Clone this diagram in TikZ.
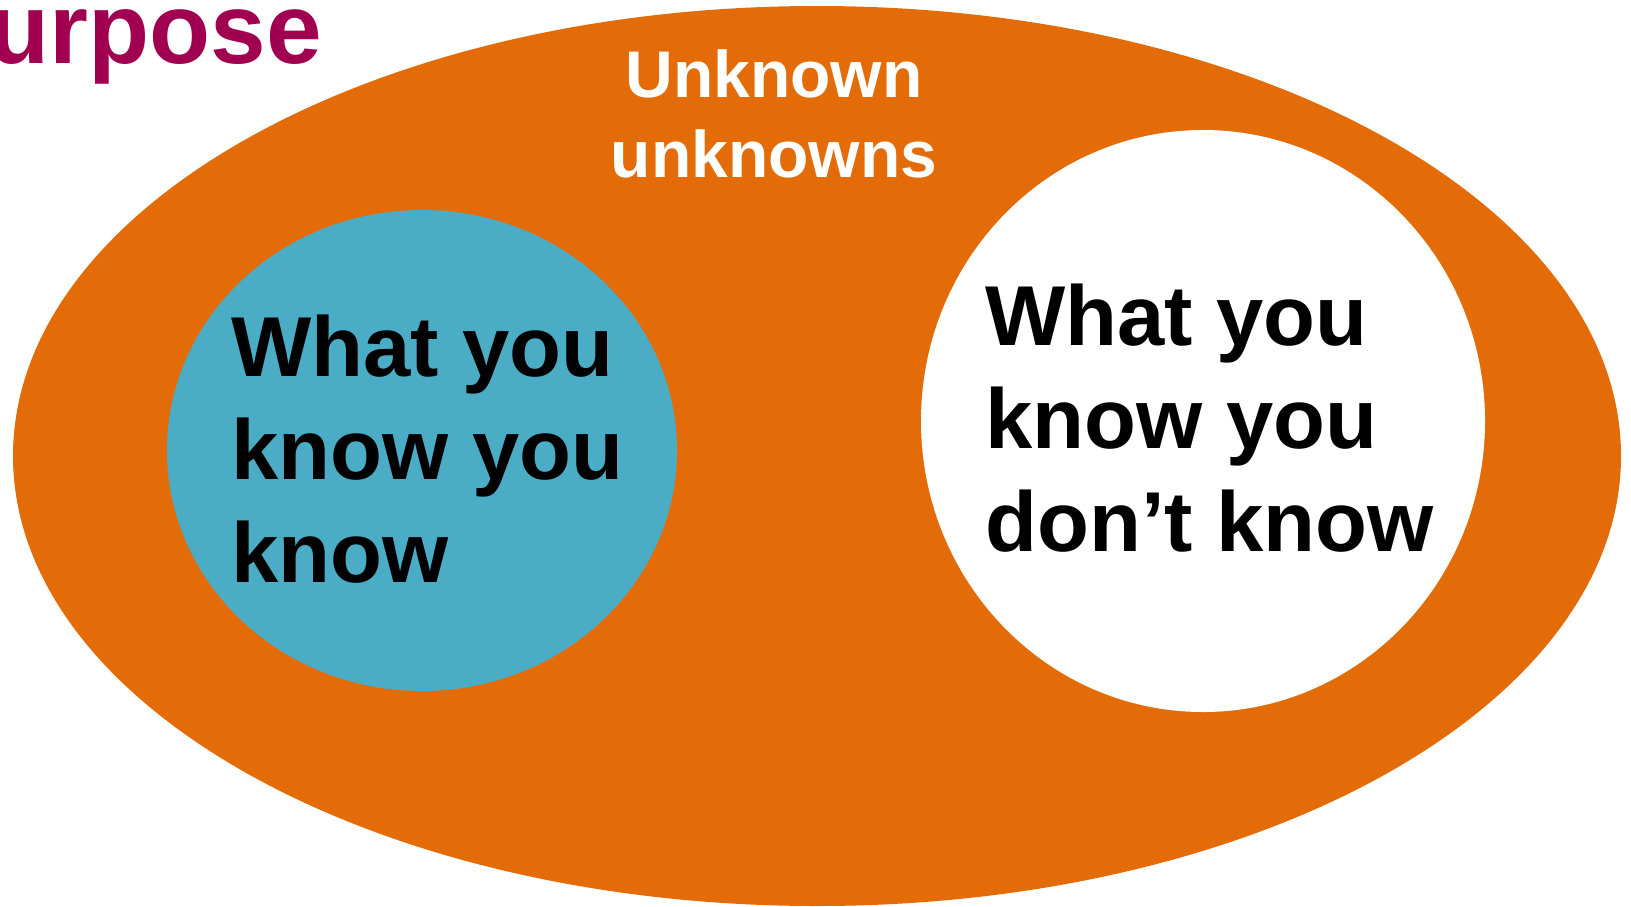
\documentclass[tikz,border=0pt]{standalone}
\usepackage{fontspec}
\setmainfont{Liberation Sans}
\usepackage{tikz}

\definecolor{unkorange}{HTML}{E36C09}
\definecolor{knownblue}{HTML}{4BACC6}
\definecolor{titlered}{HTML}{A10050}

\tikzset{
  bigtext/.style={anchor=base west, inner sep=0pt, align=left,
    font=\bfseries\fontsize{42.5}{51.5}\selectfont},
}

\begin{document}
\begin{tikzpicture}[x=0.5pt, y=-0.5pt]
  \useasboundingbox (0, 0) rectangle (1631, 906);

    % Unknown unknowns
    \fill[unkorange] (817, 456) ellipse [x radius=804, y radius=450];
    \node[inner sep=0pt, align=center, text=white,
      font=\bfseries\fontsize{33}{40}\selectfont, anchor=base]
      (unk) at (774, 177) {Unknown\\unknowns};

    % Known knowns
    \fill[knownblue] (422, 450.5) ellipse [x radius=255, y radius=240.5];
    \node[bigtext] (kk) at (231, 582.5) {What you\\know you\\know};

    % Known unknowns
    \fill[white] (1203, 421) ellipse [x radius=282, y radius=291];
    \node[bigtext] (ku) at (985, 551.3) {What you\\know you\\don’t know};

    % Title
    \node[anchor=base east, inner sep=0pt, text=titlered,
      font=\bfseries\fontsize{50}{60}\selectfont] (title) at (322, 63) {Purpose};

\end{tikzpicture}
\end{document}
